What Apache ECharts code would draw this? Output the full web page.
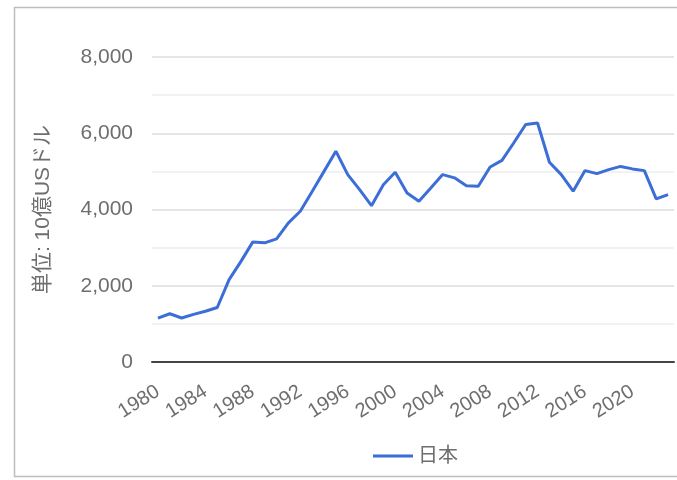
<!DOCTYPE html>
<html>
<head>
<meta charset="utf-8">
<script src="https://cdn.jsdelivr.net/npm/echarts@6/dist/echarts.min.js"></script>
<style>
  html, body { margin: 0; padding: 0; background: #fff; }
  #chart { width: 677px; height: 480px; }
</style>
</head>
<body>
<div id="chart"></div>
<script>
// 日本の名目GDP（単位: 10億USドル）
const years = [];
for (let y = 1980; y <= 2023; y++) years.push(String(y));

const gdpJapan = [
  1150, 1265, 1155, 1250, 1330, 1430, 2160, 2640, 3150, 3125,
  3230, 3650, 3955, 4470, 5000, 5530, 4915, 4520, 4100, 4650,
  4975, 4435, 4215, 4565, 4915, 4830, 4625, 4610, 5115, 5290,
  5750, 6230, 6270, 5240, 4915, 4480, 5020, 4940, 5045, 5130,
  5065, 5020, 4280, 4390
];

const seriesName = '日本';
const yAxisTitle = '単位: 10億USドル';
const yTicks = { min: 0, max: 8000, interval: 2000 };

const fontFamily = '"Liberation Sans", Arial, "Noto Sans CJK JP", sans-serif';
const textColor = '#6e6e6e';
const lineColor = '#3b6ed6';

const chart = echarts.init(document.getElementById('chart'), null, { renderer: 'canvas' });

chart.setOption({
  animation: false,
  backgroundColor: '#fff',
  textStyle: { fontFamily: fontFamily },
  graphic: [{
    type: 'rect',
    shape: { x: 14.5, y: 7.5, width: 700, height: 469 },
    style: { fill: 'none', stroke: '#bdbdbd', lineWidth: 1.5 },
    silent: true
  }],
  grid: { left: 152, right: 3, top: 57, bottom: 118, containLabel: false },
  legend: {
    left: 368,
    top: 441,
    itemWidth: 40,
    itemHeight: 3,
    itemGap: 10,
    icon: 'rect',
    textStyle: { color: textColor, fontSize: 20, fontFamily: fontFamily },
    data: [seriesName]
  },
  xAxis: {
    type: 'category',
    data: years,
    boundaryGap: true,
    axisLine: { show: true, lineStyle: { color: '#444', width: 2 } },
    axisTick: { show: false },
    axisLabel: {
      interval: 3,
      rotate: 32,
      margin: 28,
      color: textColor,
      fontSize: 20,
      fontFamily: fontFamily
    },
    splitLine: { show: false }
  },
  yAxis: {
    type: 'value',
    min: yTicks.min,
    max: yTicks.max,
    interval: yTicks.interval,
    name: yAxisTitle,
    nameLocation: 'middle',
    nameGap: 98,
    nameRotate: 90,
    nameTextStyle: { color: textColor, fontSize: 21, fontFamily: fontFamily },
    axisLine: { show: false },
    axisTick: { show: false },
    axisLabel: {
      margin: 19,
      color: textColor,
      fontSize: 21,
      fontFamily: fontFamily,
      formatter: v => v.toLocaleString('en-US')
    },
    splitLine: { show: true, lineStyle: { color: '#dcdcdc', width: 1.5 } },
    minorTick: { show: false, splitNumber: 2 },
    minorSplitLine: { show: true, lineStyle: { color: '#eeeeee', width: 1.5 } }
  },
  series: [{
    name: seriesName,
    type: 'line',
    data: gdpJapan,
    symbol: 'none',
    smooth: false,
    lineStyle: { color: lineColor, width: 3 },
    itemStyle: { color: lineColor },
    z: 3
  }]
});
</script>
</body>
</html>
